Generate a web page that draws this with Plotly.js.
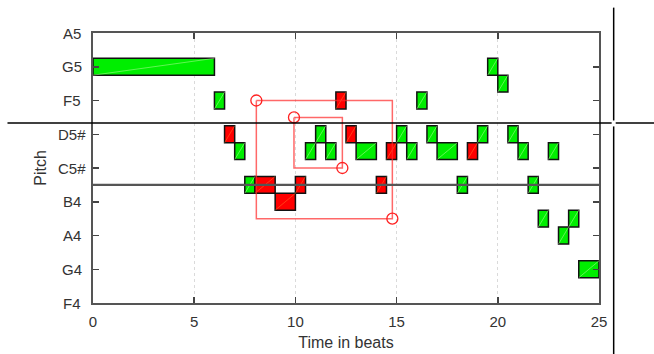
<!DOCTYPE html>
<html>
<head>
<meta charset="utf-8">
<script src="https://cdn.plot.ly/plotly-3.0.1.min.js"></script>
<style>html,body{margin:0;padding:0;background:#fff;}#chart{width:654px;height:354px;}</style>
</head>
<body>
<div id="chart"></div>
<script>
// Notes: start beat, duration (beats), MIDI pitch, flag (0 = green, 1 = red)
const noteStart = [0, 6, 6.5, 7, 7.5, 8, 9, 10, 10.5, 11, 11.5, 12, 12.5, 13, 14, 14.5, 15, 15.5, 16, 16.5, 17, 18, 18.5, 19, 19.5, 20, 20.5, 21, 21.5, 22, 22.5, 23, 23.5, 24];
const noteDur   = [6, 0.5, 0.5, 0.5, 0.5, 1, 1, 0.5, 0.5, 0.5, 0.5, 0.5, 0.5, 1, 0.5, 0.5, 0.5, 0.5, 0.5, 0.5, 1, 0.5, 0.5, 0.5, 0.5, 0.5, 0.5, 0.5, 0.5, 0.5, 0.5, 0.5, 0.5, 1];
const notePitch = [79, 77, 75, 74, 72, 72, 71, 72, 74, 75, 74, 77, 75, 74, 72, 74, 75, 74, 77, 75, 74, 72, 74, 75, 79, 78, 75, 74, 72, 70, 74, 69, 70, 67];
const noteFlag  = [0, 0, 1, 0, 0, 1, 1, 1, 0, 0, 0, 1, 1, 0, 1, 1, 0, 0, 0, 0, 0, 0, 1, 0, 0, 0, 0, 0, 0, 0, 0, 0, 0, 0];

// Red boxes: [x0, x1] beats and [pitchTop, pitchBottom]
const boxX = [[8.07, 14.79], [9.93, 12.32]];
const boxY = [[77, 70], [76, 73]];

// Reference line pitch
const refPitch = [72];

// Tick labels
const pitchTicks = [65, 67, 69, 71, 73, 75, 77, 79, 81];
const pitchLabels = ['F4', 'G4', 'A4', 'B4', 'C5#', 'D5#', 'F5', 'G5', 'A5'];
const beatTicks = [0, 5, 10, 15, 20, 25];

function subset(flag) {
  const s = [], d = [], p = [];
  for (let i = 0; i < noteStart.length; i++) {
    if (noteFlag[i] === flag) { s.push(noteStart[i]); d.push(noteDur[i]); p.push(notePitch[i]); }
  }
  return {s, d, p};
}
function barTrace(flag, color) {
  const g = subset(flag);
  return {
    type: 'bar', orientation: 'h', base: g.s, x: g.d, y: g.p, width: 1,
    marker: {color: color, line: {color: '#111', width: 1.5}},
    hoverinfo: 'skip', showlegend: false
  };
}
function diagTrace(flag, color) {
  const g = subset(flag);
  const x = [], y = [];
  for (let i = 0; i < g.s.length; i++) {
    x.push(g.s[i], g.s[i] + g.d[i], null);
    y.push(g.p[i] - 0.5, g.p[i] + 0.5, null);
  }
  return {type: 'scatter', mode: 'lines', x, y, line: {color: color, width: 0.6}, hoverinfo: 'skip', showlegend: false};
}

const traces = [
  barTrace(0, '#00ee00'),
  barTrace(1, '#ff0000'),
  diagTrace(0, 'rgba(230,255,200,0.7)'),
  diagTrace(1, 'rgba(255,170,60,0.6)')
];

for (let k = 0; k < boxX.length; k++) {
  const [x0, x1] = boxX[k];
  const [y0, y1] = boxY[k];
  traces.push({
    type: 'scatter', mode: 'lines',
    x: [x0, x1, x1, x0, x0], y: [y0, y0, y1, y1, y0],
    line: {color: 'rgba(255,40,40,0.7)', width: 1.5},
    hoverinfo: 'skip', showlegend: false
  });
  traces.push({
    type: 'scatter', mode: 'markers',
    x: [x0, x1], y: [y0, y1],
    marker: {symbol: 'circle-open', size: 11, color: '#ff2020', line: {width: 1.3, color: '#ff2020'}},
    hoverinfo: 'skip', showlegend: false
  });
}

const shapes = [];
refPitch.forEach(p => shapes.push({
  type: 'line', xref: 'paper', yref: 'y', x0: 0, x1: 1, y0: p, y1: p,
  line: {color: '#555', width: 2.2}, layer: 'above'
}));
// cursor crosshair (paper coords)
const crossColor = '#000';
shapes.push({type: 'line', xref: 'paper', yref: 'paper', x0: -0.169, x1: 1.025, y0: 0.6665, y1: 0.6665, line: {color: crossColor, width: 1.5}, layer: 'above'});
shapes.push({type: 'line', xref: 'paper', yref: 'paper', x0: 1.033, x1: 1.15, y0: 0.6665, y1: 0.6665, line: {color: crossColor, width: 1.5}, layer: 'above'});
shapes.push({type: 'line', xref: 'paper', yref: 'paper', x0: 1.029, x1: 1.029, y0: 1.094, y1: 0.676, line: {color: crossColor, width: 1.5}, layer: 'above'});
shapes.push({type: 'line', xref: 'paper', yref: 'paper', x0: 1.029, x1: 1.029, y0: 0.654, y1: -0.2, line: {color: crossColor, width: 1.5}, layer: 'above'});

const fontFam = 'Liberation Sans, Arial, sans-serif';
// centered y tick labels
const annotations = pitchTicks.map((p, i) => ({
  xref: 'paper', yref: 'y', x: -0.042, y: p, xanchor: 'center', yanchor: 'middle',
  text: pitchLabels[i], showarrow: false, font: {family: fontFam, size: 15, color: '#333'}
}));

const layout = {
  width: 654, height: 354,
  margin: {l: 93.3, r: 54.7, t: 33.3, b: 51.1, pad: 0},
  paper_bgcolor: '#fff', plot_bgcolor: '#fff',
  barmode: 'overlay',
  showlegend: false,
  font: {family: fontFam, size: 15, color: '#333'},
  xaxis: {
    range: [0, 25], tickvals: beatTicks, ticks: 'inside', ticklen: 6, tickwidth: 1.5, tickcolor: '#444',
    showline: true, linecolor: '#555', linewidth: 2, mirror: 'ticks',
    showgrid: true, gridcolor: '#dadada', griddash: 'dot', gridwidth: 1,
    zeroline: false, ticklabelstandoff: 4,
    title: {text: 'Time in beats', font: {family: fontFam, size: 16, color: '#333'}, standoff: 8},
    tickfont: {family: fontFam, size: 15, color: '#333'}
  },
  yaxis: {
    range: [65, 81], tickvals: pitchTicks, ticks: 'inside', ticklen: 6, tickwidth: 1.5, tickcolor: '#444',
    showline: true, linecolor: '#555', linewidth: 2, mirror: 'ticks', showticklabels: false,
    showgrid: false, zeroline: false,
    title: {text: 'Pitch', font: {family: fontFam, size: 16, color: '#333'}, standoff: 40}
  },
  annotations: annotations,
  shapes: shapes
};

Plotly.newPlot('chart', traces, layout, {staticPlot: true, displayModeBar: false});
</script>
</body>
</html>
